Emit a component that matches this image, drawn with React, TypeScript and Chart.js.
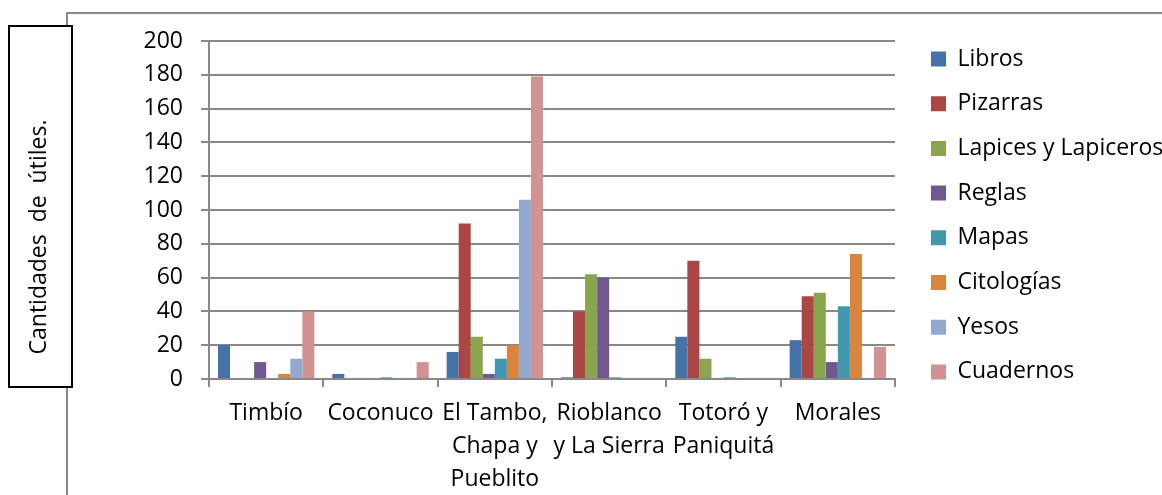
import React, { useEffect, useRef } from "react";
import { Chart, registerables } from "chart.js";

Chart.register(...registerables);

// ---- data ----
const categories: string[][] = [
  ["Timbío"],
  ["Coconuco"],
  ["El Tambo,", "Chapa y", "Pueblito"],
  ["Rioblanco", "y La Sierra"],
  ["Totoró y", "Paniquitá"],
  ["Morales"],
];
const seriesNames = [
  "Libros",
  "Pizarras",
  "Lapices y Lapiceros",
  "Reglas",
  "Mapas",
  "Citologías",
  "Yesos",
  "Cuadernos",
];
const libros = [20, 3, 16, 1, 25, 23];
const pizarras = [0, 0, 92, 40, 70, 49];
const lapices = [0, 0, 25, 62, 12, 51];
const reglas = [10, 0, 3, 60, 0, 10];
const mapas = [0, 1, 12, 1, 1, 43];
const citologias = [3, 0, 20, 0, 0, 74];
const yesos = [12, 0, 106, 0, 0, 0];
const cuadernos = [40, 10, 179, 0, 0, 19];
const yMin = 0;
const yMax = 200;
const yStep = 20;
const yTitle = "Cantidades  de  útiles.";

const colors = [
  "#4572A7",
  "#AA4643",
  "#89A54E",
  "#71588F",
  "#4198AF",
  "#DB843D",
  "#93A9CF",
  "#D19392",
];

const FONT = "'Open Sans', sans-serif";
const FS = 23;
const GRID = "#888888";
const W = 1162;
const H = 495;
const PLOT_RIGHT = 895;
const LEG_PAD = 44.7 - FS;

export default function App() {
  const ref = useRef<HTMLCanvasElement>(null);

  useEffect(() => {
    const canvas = ref.current!;
    const seriesValues = [libros, pizarras, lapices, reglas, mapas, citologias, yesos, cuadernos];

    const framePlugin = {
      id: "frameAndTitle",
      afterLayout(chart: any) {
        const lg = chart.legend;
        if (lg) {
          lg.left = 931 - LEG_PAD;
          lg.right = lg.left + lg.width;
          lg.top = 59 - LEG_PAD - FS / 2;
          lg.bottom = H;
        }
      },
      afterDraw(chart: any) {
        const ctx = chart.ctx as CanvasRenderingContext2D;
        ctx.save();
        ctx.strokeStyle = GRID;
        ctx.lineWidth = 2;
        ctx.beginPath();
        ctx.moveTo(67, H);
        ctx.lineTo(67, 13);
        ctx.lineTo(W, 13);
        ctx.stroke();
        ctx.fillStyle = "#ffffff";
        ctx.fillRect(9, 26, 63, 361);
        ctx.strokeStyle = "#000000";
        ctx.lineWidth = 2;
        ctx.strokeRect(9, 26, 63, 361);
        ctx.translate(39, 237);
        ctx.rotate(-Math.PI / 2);
        ctx.fillStyle = "#000000";
        ctx.font = `${FS}px ${FONT}`;
        ctx.textAlign = "center";
        ctx.textBaseline = "middle";
        ctx.fillText(yTitle, 0, 0);
        ctx.restore();
      },
    };

    const chart = new Chart(canvas, {
      type: "bar",
      data: {
        labels: categories as any,
        datasets: seriesNames.map((name, i) => ({
          label: name,
          data: seriesValues[i],
          backgroundColor: colors[i],
          borderColor: colors[i],
          borderWidth: 0,
          categoryPercentage: 0.843,
          barPercentage: 1,
        })),
      },
      options: {
        animation: false,
        responsive: false,
        maintainAspectRatio: false,
        layout: { padding: { top: 41, left: 0, right: 0, bottom: 0 } },
        plugins: {
          tooltip: { enabled: false },
          title: { display: false },
          legend: {
            position: "right",
            align: "start",
            maxWidth: W - PLOT_RIGHT,
            labels: {
              boxWidth: 15,
              boxHeight: 15,
              padding: LEG_PAD,
              color: "#000000",
              font: { family: FONT, size: FS },
            },
          },
        },
        scales: {
          x: {
            grid: {
              drawOnChartArea: false,
              drawTicks: true,
              tickLength: 8,
              color: GRID,
              lineWidth: 2,
              offset: true,
            },
            border: { color: GRID, width: 2 },
            ticks: {
              color: "#000000",
              font: { family: FONT, size: FS, lineHeight: "33px" },
              padding: 10,
              maxRotation: 0,
              minRotation: 0,
              autoSkip: false,
            },
            afterFit: (s: any) => {
              s.height = H - 379;
            },
          },
          y: {
            min: yMin,
            max: yMax,
            ticks: {
              stepSize: yStep,
              color: "#000000",
              font: { family: FONT, size: FS },
              padding: 18,
            },
            grid: { color: GRID, lineWidth: 2, tickLength: 8 },
            border: { color: GRID, width: 2 },
            afterFit: (s: any) => {
              s.width = 209;
            },
          },
        },
      },
      plugins: [framePlugin],
    });

    const diff = chart.chartArea.right - PLOT_RIGHT;
    if (Math.abs(diff) > 0.1) {
      (chart.options.layout!.padding as any).right = Math.max(0, diff);
      chart.update();
    }

    return () => chart.destroy();
  }, []);

  return (
    <div style={{ position: "fixed", left: 0, top: 0, width: W, height: H, background: "#fff" }}>
      <canvas ref={ref} width={W} height={H} style={{ display: "block", width: W, height: H }} />
    </div>
  );
}
